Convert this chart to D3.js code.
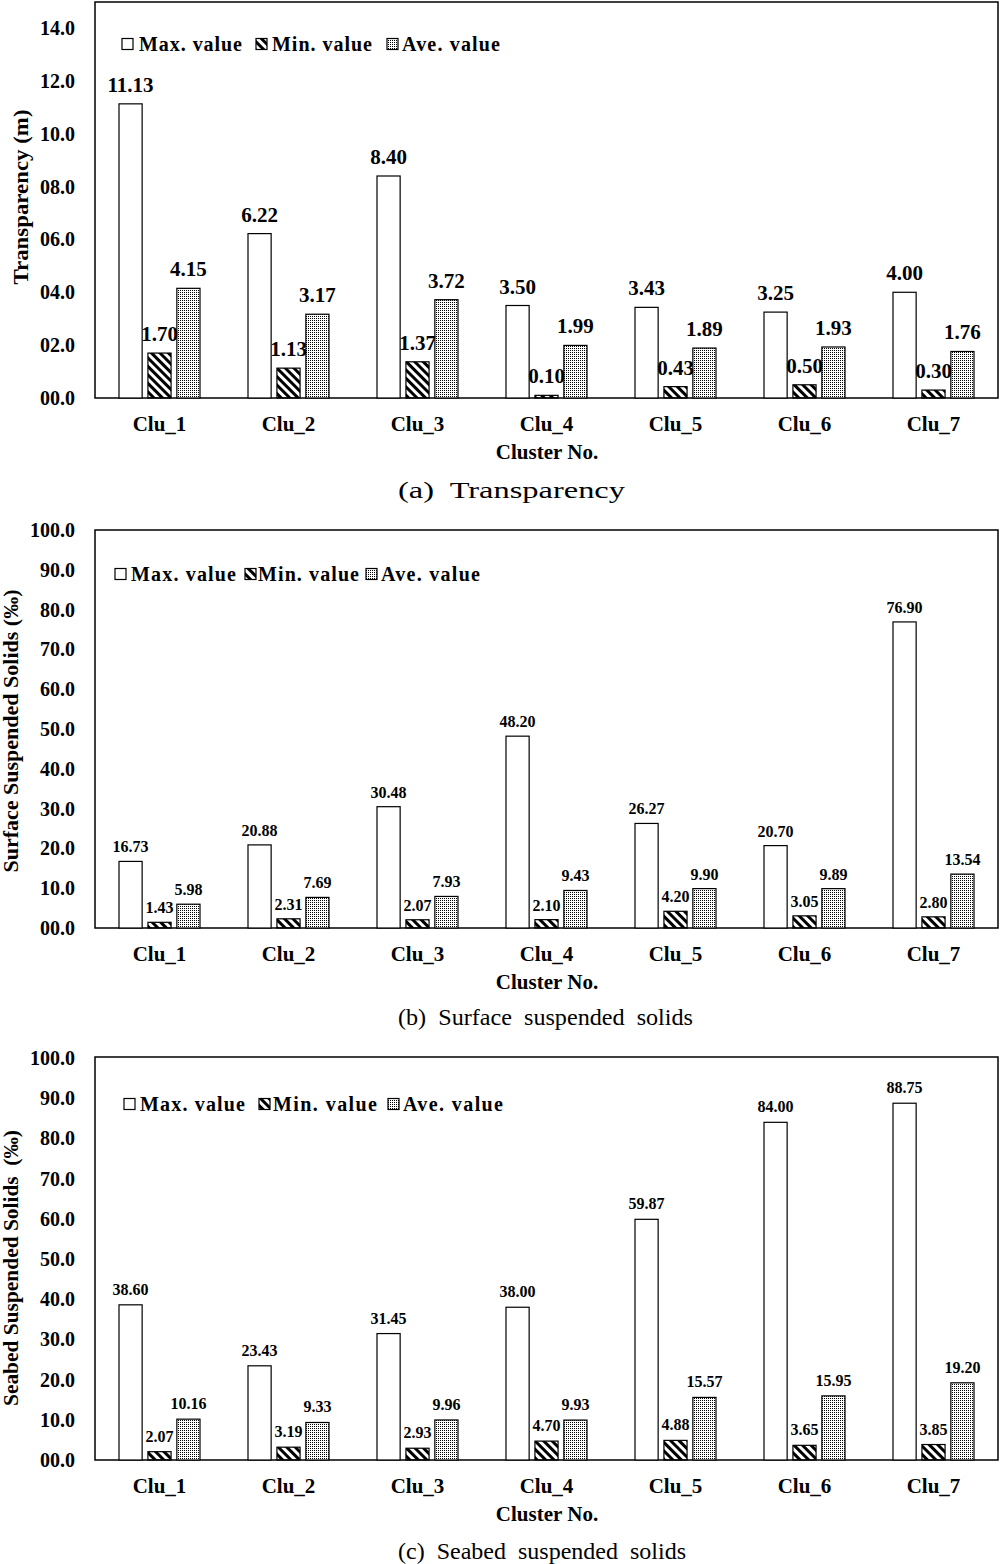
<!DOCTYPE html>
<html>
<head>
<meta charset="utf-8">
<script src="https://cdn.jsdelivr.net/npm/d3@7"></script>
<style>
  body { margin: 0; background: #fff; }
  svg text { font-family: "Liberation Serif", "Times New Roman", serif; }
</style>
</head>
<body>
<svg id="chart" width="1000" height="1564"></svg>
<script>
const categories = ["Clu_1", "Clu_2", "Clu_3", "Clu_4", "Clu_5", "Clu_6", "Clu_7"];
const series = ["Max. value", "Min. value", "Ave. value"];

// (a) Transparency
const transMax = [11.13, 6.22, 8.40, 3.50, 3.43, 3.25, 4.00];
const transMin = [1.70, 1.13, 1.37, 0.10, 0.43, 0.50, 0.30];
const transAve = [4.15, 3.17, 3.72, 1.99, 1.89, 1.93, 1.76];
const transTicks = [0, 2, 4, 6, 8, 10, 12, 14];

// (b) Surface suspended solids
const surfMax = [16.73, 20.88, 30.48, 48.20, 26.27, 20.70, 76.90];
const surfMin = [1.43, 2.31, 2.07, 2.10, 4.20, 3.05, 2.80];
const surfAve = [5.98, 7.69, 7.93, 9.43, 9.90, 9.89, 13.54];

// (c) Seabed suspended solids
const seabMax = [38.60, 23.43, 31.45, 38.00, 59.87, 84.00, 88.75];
const seabMin = [2.07, 3.19, 2.93, 4.70, 4.88, 3.65, 3.85];
const seabAve = [10.16, 9.33, 9.96, 9.93, 15.57, 15.95, 19.20];
const ssTicks = [0, 10, 20, 30, 40, 50, 60, 70, 80, 90, 100];

const svg = d3.select("#chart");
const defs = svg.append("defs");

// hatch for min, fine dots for average
defs.append("pattern")
  .attr("id", "hatch")
  .attr("patternUnits", "userSpaceOnUse")
  .attr("width", 6).attr("height", 6)
  .attr("patternTransform", "rotate(-45)")
  .append("rect").attr("width", 3).attr("height", 6).attr("fill", "#000");

const dots = defs.append("pattern")
  .attr("id", "dots")
  .attr("patternUnits", "userSpaceOnUse")
  .attr("width", 2).attr("height", 2);
dots.append("rect").attr("width", 2).attr("height", 2).attr("fill", "#fff");
dots.append("rect").attr("width", 1).attr("height", 1).attr("fill", "#000");

const fills = ["#fff", "url(#hatch)", "url(#dots)"];

const x0 = d3.scaleBand().domain(categories).range([95, 998]);
const x1 = d3.scaleBand().domain(series).range([0, 81]).paddingInner(0.2);
const fmtTick = d3.format("04.1f");

function drawPanel(p) {
  const g = svg.append("g");
  const y = d3.scaleLinear().domain([0, p.max]).range([p.bottom, p.topTick]);

  // frame
  g.append("rect")
    .attr("x", 95).attr("y", p.boxTop)
    .attr("width", 903).attr("height", p.bottom - p.boxTop)
    .attr("fill", "none").attr("stroke", "#000").attr("stroke-width", 1.5);

  // y ticks
  g.selectAll(".ytick").data(p.ticks).join("text")
    .attr("x", 75).attr("y", d => y(d))
    .attr("dy", "0.35em")
    .attr("text-anchor", "end")
    .attr("font-size", 20).attr("font-weight", "bold")
    .text(d => fmtTick(d));

  // bars
  const rows = p.values.map((vals, si) => vals.map((v, ci) => ({ s: series[si], si, c: categories[ci], v })));
  const flat = rows.flat();
  const off = x0.bandwidth() / 2 - 40.5;

  g.selectAll(".bar").data(flat).join("rect")
    .attr("x", d => x0(d.c) + off + x1(d.s))
    .attr("y", d => y(d.v))
    .attr("width", x1.bandwidth())
    .attr("height", d => p.bottom - y(d.v))
    .attr("fill", d => fills[d.si])
    .attr("stroke", "#000").attr("stroke-width", 1.2);

  g.selectAll(".val").data(flat).join("text")
    .attr("x", d => x0(d.c) + off + x1(d.s) + x1.bandwidth() / 2)
    .attr("y", d => y(d.v) - p.labelGap)
    .attr("text-anchor", "middle")
    .attr("font-size", p.labelSize).attr("font-weight", "bold")
    .text(d => d.v.toFixed(2));

  // category labels
  g.selectAll(".cat").data(categories).join("text")
    .attr("x", d => x0(d) + x0.bandwidth() / 2)
    .attr("y", p.bottom + 33)
    .attr("text-anchor", "middle")
    .attr("font-size", 21).attr("font-weight", "bold")
    .text(d => d);

  g.append("text")
    .attr("x", 547).attr("y", p.bottom + 61)
    .attr("text-anchor", "middle")
    .attr("font-size", 21).attr("font-weight", "bold")
    .text("Cluster No.");

  // y title
  g.append("text")
    .attr("transform", `translate(${p.titleX},${p.titleY}) rotate(-90)`)
    .attr("text-anchor", "middle")
    .attr("dy", "0.35em")
    .attr("font-size", 20).attr("font-weight", "bold")
    .attr("textLength", p.titleLen).attr("lengthAdjust", "spacingAndGlyphs")
    .style("white-space", "pre")
    .text(p.title);

  // legend
  p.legend.forEach((l, i) => {
    g.append("rect")
      .attr("x", l[0]).attr("y", p.legendY - 5.5)
      .attr("width", 11).attr("height", 11)
      .attr("fill", fills[i]).attr("stroke", "#000").attr("stroke-width", 1.2);
    g.append("text")
      .attr("x", l[1]).attr("y", p.legendY)
      .attr("dy", "0.35em")
      .attr("font-size", 20).attr("font-weight", "bold")
      .attr("textLength", l[2]).attr("lengthAdjust", "spacing")
      .text(series[i]);
  });

  // caption
  g.append("text")
    .attr("x", 398).attr("y", p.captionY)
    .attr("dy", "0.35em")
    .attr("font-size", 23)
    .attr("textLength", p.captionLen).attr("lengthAdjust", "spacingAndGlyphs")
    .style("white-space", "pre")
    .text(p.caption);
}

drawPanel({
  values: [transMax, transMin, transAve], max: 14, ticks: transTicks,
  boxTop: 2, topTick: 28, bottom: 398,
  labelSize: 21, labelGap: 12,
  title: "Transparency (m)", titleX: 21, titleY: 197, titleLen: 175,
  legendY: 44, legend: [[122, 139, 103], [256, 272, 100], [387, 402, 98]],
  caption: "(a)  Transparency", captionY: 490, captionLen: 227
});

drawPanel({
  values: [surfMax, surfMin, surfAve], max: 100, ticks: ssTicks,
  boxTop: 530, topTick: 530, bottom: 928,
  labelSize: 16, labelGap: 9,
  title: "Surface Suspended Solids (\u2030)", titleX: 11, titleY: 731, titleLen: 283,
  legendY: 574, legend: [[115, 131, 105], [245, 258, 101], [366, 381, 99]],
  caption: "(b)  Surface  suspended  solids", captionY: 1017, captionLen: 295
});

drawPanel({
  values: [seabMax, seabMin, seabAve], max: 100, ticks: ssTicks,
  boxTop: 1057, topTick: 1058, bottom: 1460,
  labelSize: 16, labelGap: 10,
  title: "Seabed Suspended Solids  (\u2030)", titleX: 11, titleY: 1268, titleLen: 276,
  legendY: 1104, legend: [[124, 140, 105], [259, 273, 104], [388, 403, 100]],
  caption: "(c)  Seabed  suspended  solids", captionY: 1551, captionLen: 288
});
</script>
</body>
</html>
